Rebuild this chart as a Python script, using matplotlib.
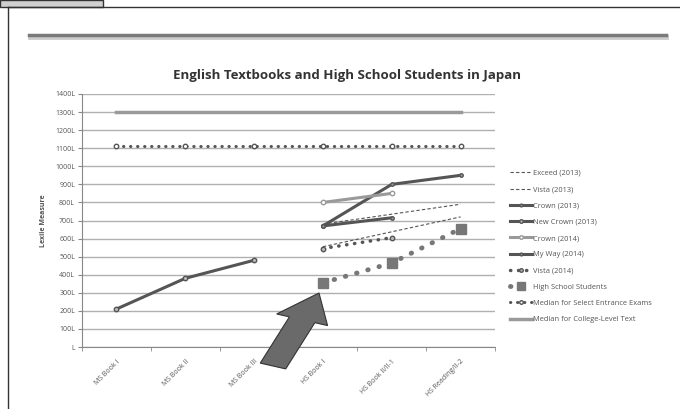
import numpy as np
import matplotlib.pyplot as plt
from matplotlib.lines import Line2D
from matplotlib.patches import Rectangle, FancyArrow

plt.rcParams['font.family'] = ['Open Sans', 'DejaVu Sans']

categories = ['MS Book I', 'MS Book II', 'MS Book III', 'HS Book I', 'HS Book II/II-1', 'HS Reading/II-2']

# each series: category indices and Lexile values
exceed_2013_x = [3, 5]
exceed_2013 = [680, 790]
vista_2013_x = [3, 5]
vista_2013 = [555, 720]
crown_2013_x = [3, 4, 5]
crown_2013 = [670, 900, 950]
new_crown_2013_x = [0, 1, 2]
new_crown_2013 = [210, 380, 480]
crown_2014_x = [3, 4]
crown_2014 = [800, 850]
my_way_2014_x = [3, 4]
my_way_2014 = [670, 715]
vista_2014_x = [3, 4]
vista_2014 = [545, 605]
hs_students_x = [3, 4, 5]
hs_students = [355, 465, 655]
median_exams_x = [0, 1, 2, 3, 4, 5]
median_exams = [1115, 1115, 1115, 1115, 1115, 1115]
median_college_x = [0, 1, 2, 3, 4, 5]
median_college = [1300, 1300, 1300, 1300, 1300, 1300]

dark = '#555555'
light = '#9a9a9a'

fig = plt.figure(figsize=(6.8, 4.09), dpi=100)
ax = fig.add_axes([82 / 680, 1 - 347 / 409, 413 / 680, 253 / 409])

# page furniture around the chart
fig.add_artist(Rectangle((0, 1 - 7 / 409), 103 / 680, 7 / 409, transform=fig.transFigure,
                         facecolor='#d0d0d0', edgecolor='#333333', lw=1))
fig.add_artist(Line2D([8 / 680, 1], [1 - 7 / 409, 1 - 7 / 409], transform=fig.transFigure, color='#333333', lw=1))
fig.add_artist(Line2D([8 / 680, 8 / 680], [0, 1 - 7 / 409], transform=fig.transFigure, color='#333333', lw=1))
fig.add_artist(Line2D([30 / 680, 666 / 680], [1 - 37 / 409, 1 - 37 / 409], transform=fig.transFigure,
                      color='#cccccc', lw=3.5))
fig.add_artist(Line2D([29 / 680, 666 / 680], [1 - 35 / 409, 1 - 35 / 409], transform=fig.transFigure,
                      color='#7a7a7a', lw=2.5))

fig.text(347 / 680, 1 - 75 / 409, 'English Textbooks and High School Students in Japan',
         ha='center', va='center', fontsize=9.5, fontweight='bold', color='#333333')

dotted = (0, (0.1, 2.2))
h = []
h += ax.plot(exceed_2013_x, exceed_2013, color=dark, lw=0.8, ls=(0, (3, 2)), label='Exceed (2013)')
h += ax.plot(vista_2013_x, vista_2013, color=dark, lw=0.8, ls=(0, (3, 2)), label='Vista (2013)')
h += ax.plot(crown_2013_x, crown_2013, color=dark, lw=2.2, marker='o', ms=2.5, mfc=light, mec=dark,
             label='Crown (2013)')
h += ax.plot(new_crown_2013_x, new_crown_2013, color=dark, lw=2.2, marker='o', ms=3.2, mfc='#bbbbbb', mec=dark,
             label='New Crown (2013)')
h += ax.plot(crown_2014_x, crown_2014, color=light, lw=2.2, marker='o', ms=3.2, mfc='white', mec=light,
             label='Crown (2014)')
h += ax.plot(my_way_2014_x, my_way_2014, color=dark, lw=2.2, marker='o', ms=2.5, mfc=light, mec=dark,
             label='My Way (2014)')
h += ax.plot(vista_2014_x, vista_2014, color=dark, lw=2.5, ls=dotted, dash_capstyle='round',
             marker='o', ms=3.2, mfc='#bbbbbb', mec=dark, label='Vista (2014)')
h += ax.plot(hs_students_x, hs_students, color='#777777', lw=3.5, ls=(0, (0.1, 2.3)), dash_capstyle='round',
             marker='s', ms=7.5, mfc='#777777', mec='#777777', label='High School Students')
h += ax.plot(median_exams_x, median_exams, color=dark, lw=2.2, ls=dotted, dash_capstyle='round',
             marker='o', ms=3.2, mfc='white', mec=dark, label='Median for Select Entrance Exams')
h += ax.plot(median_college_x, median_college, color=light, lw=2.5, label='Median for College-Level Text')

ax.set_xlim(-0.5, 5.5)
ax.set_ylim(0, 1400)
yt = np.arange(0, 1500, 100)
ax.set_yticks(yt)
ax.set_yticklabels(['L'] + ['%dL' % v for v in yt[1:]], fontsize=5, color='#555555')
ax.set_xticks(range(6))
ax.set_xticklabels(categories, rotation=45, ha='right', rotation_mode='anchor', fontsize=5, color='#555555')
ax.set_xticks(np.arange(-0.5, 6, 1), minor=True)
ax.tick_params(axis='x', which='major', length=0, pad=8)
ax.tick_params(axis='x', which='minor', length=3, color='#888888')
ax.tick_params(axis='y', length=3, color='#888888', pad=2)
ax.grid(axis='y', color='#b0b0b0', lw=1)
ax.set_axisbelow(True)
for s in ['top', 'right']:
    ax.spines[s].set_visible(False)
for s in ['left', 'bottom']:
    ax.spines[s].set_color('#888888')
ax.set_ylabel('Lexile Measure', fontsize=5, fontweight='bold', color='#555555', labelpad=6)

fig.legend(handles=h, loc='upper left', bbox_to_anchor=(503 / 680, 1 - 163 / 409), frameon=False,
           fontsize=5.4, handlelength=3.0, handletextpad=0.1, labelspacing=1.2, labelcolor='#555555',
           markerscale=0.8)

# arrow pointing at the High School Students start point
fig.add_artist(FancyArrow(273 / 680, 1 - 366 / 409, 46 / 680, 73 / 409, width=0.04, head_width=0.08,
                          head_length=0.07, length_includes_head=True, transform=fig.transFigure,
                          facecolor='#6a6a6a', edgecolor='#333333', lw=0.8))

fig.savefig('out.png', dpi=100)
